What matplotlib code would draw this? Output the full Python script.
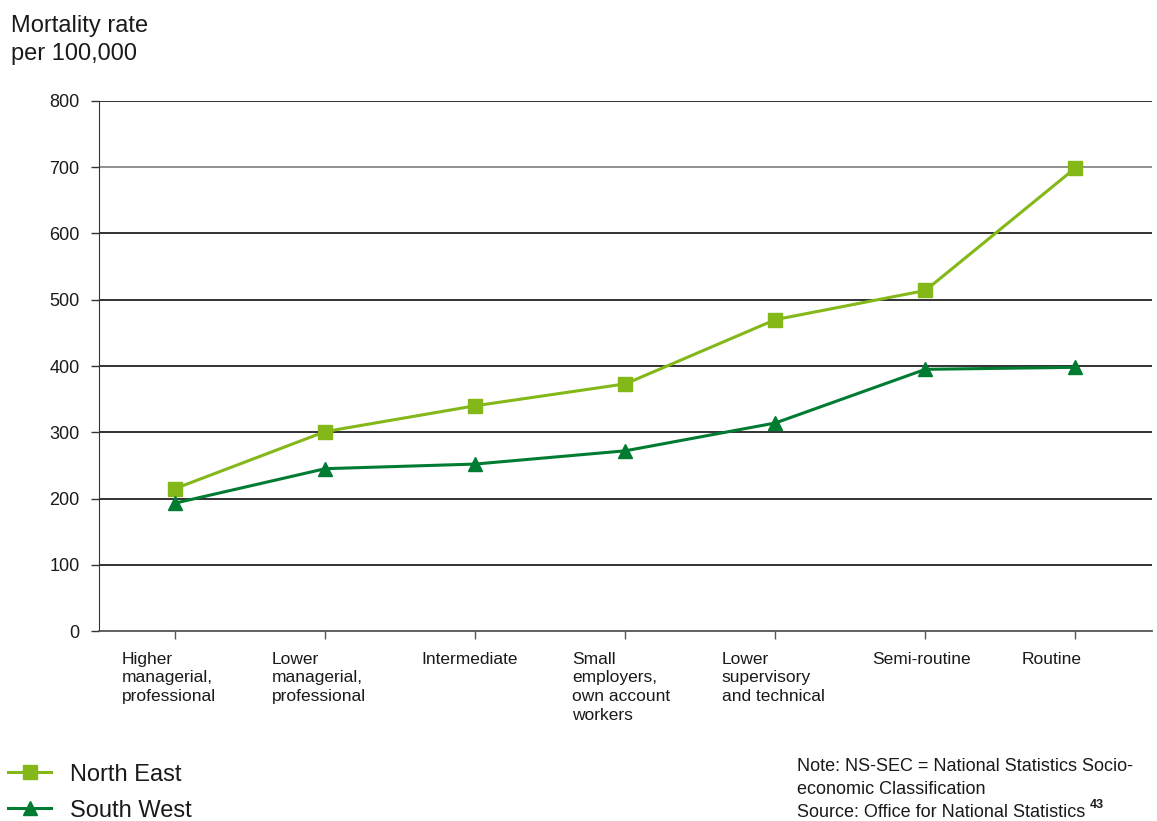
import matplotlib
matplotlib.use("Agg")
import matplotlib.pyplot as plt

plt.rcParams['font.family'] = ['Liberation Sans', 'DejaVu Sans']

# --- Data ---
categories = [
    "Higher\nmanagerial,\nprofessional",
    "Lower\nmanagerial,\nprofessional",
    "Intermediate",
    "Small\nemployers,\nown account\nworkers",
    "Lower\nsupervisory\nand technical",
    "Semi-routine",
    "Routine",
]
north_east = [215, 301, 340, 373, 470, 514, 699]
south_west = [193, 245, 252, 272, 314, 395, 398]
y_ticks = [0, 100, 200, 300, 400, 500, 600, 700, 800]

NE_COLOR = '#84b819'
SW_COLOR = '#007b32'
TEXT_COLOR = '#1a1a1a'

fig = plt.figure(figsize=(11.57, 8.21), dpi=100)
ax = fig.add_axes([0.0856, 0.2314, 0.9101, 0.6456])

x = list(range(len(categories)))
ax.plot(x, north_east, color=NE_COLOR, lw=2.2, marker='s', ms=10,
        label='North East', zorder=3)
ax.plot(x, south_west, color=SW_COLOR, lw=2.2, marker='^', ms=10,
        label='South West', zorder=3)

ax.set_xlim(-0.507, 6.51)
ax.set_ylim(0, 800)
ax.set_yticks(y_ticks)
ax.set_xticks(x)
ax.set_xticklabels([])

# category labels, left-aligned a little before each tick
for xi, cat in zip(x, categories):
    ax.annotate(cat, xy=(xi, 0), xycoords=('data', 'axes fraction'),
                xytext=(-38.5, -15), textcoords='offset points',
                ha='left', va='top', fontsize=12.5, color=TEXT_COLOR,
                linespacing=1.3, annotation_clip=False)

ax.tick_params(axis='x', direction='out', length=6, width=1, color='#555555')
ax.tick_params(axis='y', direction='out', length=6, width=1, color='#333333',
               labelsize=13, labelcolor=TEXT_COLOR, pad=8)

# gridlines
ax.yaxis.grid(True, color='#222222', lw=1.3)
gl = ax.yaxis.get_gridlines()
gl[0].set_visible(False)
gl[7].set_color('#888888')
ax.set_axisbelow(True)

for side in ['top', 'right']:
    ax.spines[side].set_visible(False)
ax.spines['left'].set_color('#333333')
ax.spines['bottom'].set_color('#555555')
ax.spines['bottom'].set_linewidth(1.3)

# y-axis title
fig.text(11 / 1157, 1 - 15 / 821, "Mortality rate\nper 100,000", fontsize=17,
         color=TEXT_COLOR, ha='left', va='top', linespacing=1.36)

# legend
fig.legend(loc='lower left', bbox_to_anchor=(0.0, -9 / 821), frameon=False,
           fontsize=17, handlelength=1.8, handletextpad=0.8,
           labelspacing=0.6, borderaxespad=0.05, borderpad=0.3,
           labelcolor=TEXT_COLOR)

# note and source
fig.text(797 / 1157, 1 - 794 / 821,
         "Note: NS-SEC = National Statistics Socio-\neconomic Classification",
         fontsize=13, color=TEXT_COLOR, ha='left', va='baseline',
         linespacing=1.46)
src = fig.text(797 / 1157, 1 - 817 / 821, "Source: Office for National Statistics",
               fontsize=13, color=TEXT_COLOR, ha='left', va='baseline')
fig.text(1090 / 1157, 1 - 808 / 821, "43", fontsize=9, fontweight='bold',
         color=TEXT_COLOR, ha='left', va='baseline')

fig.savefig('out.png', dpi=100)
